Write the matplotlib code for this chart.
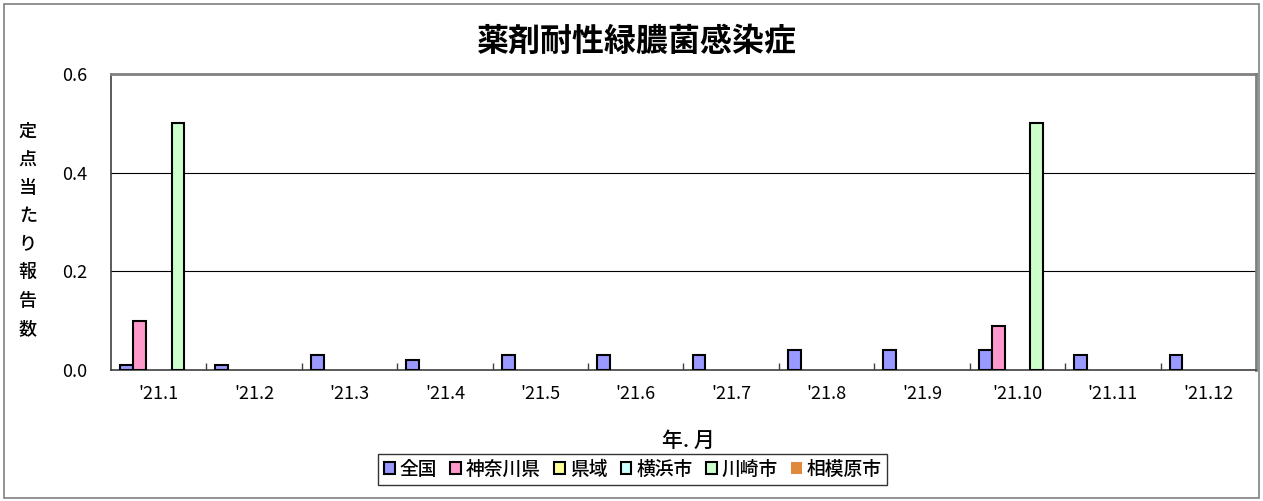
import numpy as np
import matplotlib
matplotlib.use("Agg")
import matplotlib.pyplot as plt
from matplotlib.patches import Patch, Rectangle
from matplotlib.ticker import FormatStrFormatter, FixedLocator

plt.rcParams['font.family'] = ['Noto Sans CJK JP', 'DejaVu Sans']

months = ["'21.1", "'21.2", "'21.3", "'21.4", "'21.5", "'21.6",
          "'21.7", "'21.8", "'21.9", "'21.10", "'21.11", "'21.12"]
series_names = ["全国", "神奈川県", "県域", "横浜市", "川崎市", "相模原市"]
zenkoku = [0.01, 0.01, 0.03, 0.02, 0.03, 0.03, 0.03, 0.04, 0.04, 0.04, 0.03, 0.03]
kanagawa = [0.1, 0, 0, 0, 0, 0, 0, 0, 0, 0.09, 0, 0]
kenniki = [0, 0, 0, 0, 0, 0, 0, 0, 0, 0, 0, 0]
yokohama = [0, 0, 0, 0, 0, 0, 0, 0, 0, 0, 0, 0]
kawasaki = [0.5, 0, 0, 0, 0, 0, 0, 0, 0, 0.5, 0, 0]
sagamihara = [0, 0, 0, 0, 0, 0, 0, 0, 0, 0, 0, 0]

values = [zenkoku, kanagawa, kenniki, yokohama, kawasaki, sagamihara]
colors = ["#9999FF", "#FF99CC", "#FFFF99", "#CCFFFF", "#CCFFCC", "#E0883C"]

fig = plt.figure(figsize=(12.63, 5.01), dpi=100)
fig.patches.append(Rectangle((0.003, 0.005), 0.994, 0.988, transform=fig.transFigure,
                             fill=False, edgecolor="#808080", lw=1.2))
ax = fig.add_axes([0.0879, 0.2615, 0.9065, 0.5908])

x = np.arange(len(months))
w = 0.135
for i, (vals, c) in enumerate(zip(values, colors)):
    v = np.array(vals, dtype=float)
    v[v == 0] = np.nan  # zero bars are not drawn
    ax.bar(x + (i - 2.5) * w, v, width=w, color=c, edgecolor="black", lw=1.5, zorder=3)

ax.set_xlim(-0.5, len(months) - 0.5)
ax.set_ylim(0, 0.6)
ax.set_yticks([0, 0.2, 0.4, 0.6])
ax.yaxis.set_major_formatter(FormatStrFormatter("%.1f"))
ax.set_xticks(x)
ax.set_xticklabels(months, fontsize=13)
ax.tick_params(axis="x", which="major", length=0, pad=11)
ax.xaxis.set_minor_locator(FixedLocator(np.arange(0.5, len(months) - 1, 1)))
ax.tick_params(axis="x", which="minor", direction="in", length=5, width=1, color="#404040")
ax.tick_params(axis="y", length=0, labelsize=13, pad=17)
ax.grid(axis="y", color="black", lw=0.8, zorder=0)

for side in ["top", "right"]:
    ax.spines[side].set_color("#808080")
    ax.spines[side].set_linewidth(2)
for side in ["left", "bottom"]:
    ax.spines[side].set_color("#404040")
    ax.spines[side].set_linewidth(1.2)

fig.text(0.504, 0.916, "薬剤耐性緑膿菌感染症", ha="center", va="center",
         fontsize=23, fontweight="bold")
fig.text(0.022, 0.541, "\n".join("定点当たり報告数"), ha="center", va="center",
         fontsize=13, linespacing=1.73, fontweight="medium")
fig.text(0.545, 0.12, "年. 月", ha="center", va="center", fontsize=15,
         fontweight="medium")

handles = []
for name, c in zip(series_names, colors):
    ec = "none" if name == "相模原市" else "black"
    handles.append(Patch(facecolor=c, edgecolor=ec, lw=1.5, label=name))
leg = fig.legend(handles=handles, loc="center", bbox_to_anchor=(0.501, 0.063), ncol=6,
                 prop={"size": 13.5, "weight": "medium"}, frameon=True, fancybox=False,
                 handlelength=0.58, handleheight=0.58, handletextpad=0.26,
                 columnspacing=0.7, borderpad=0.3)
leg.get_frame().set_edgecolor("black")
leg.get_frame().set_linewidth(1)

fig.savefig("out.png", dpi=100)
